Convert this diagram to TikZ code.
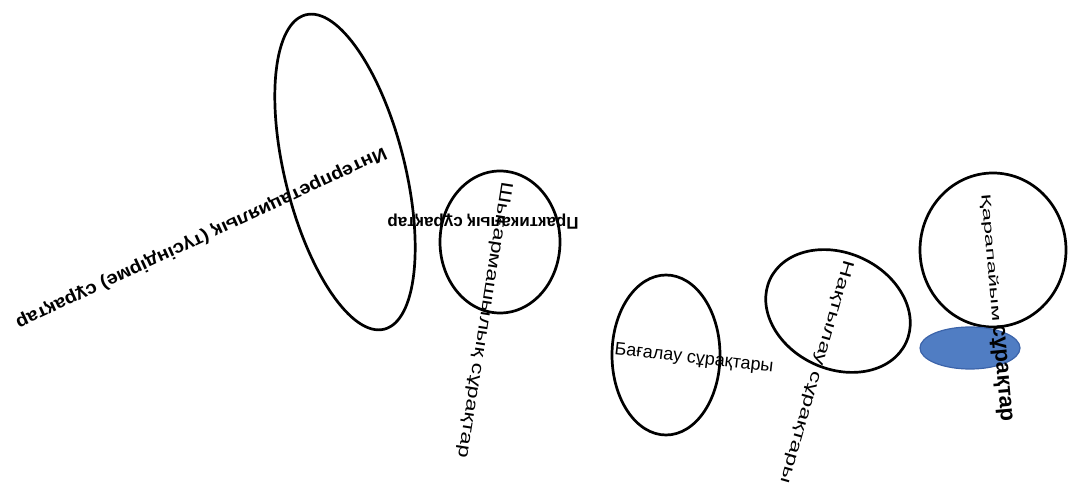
\documentclass[tikz,border=0pt]{standalone}
\usepackage{fontspec}
\setmainfont{Liberation Sans}
\usepackage{tikz}
\usetikzlibrary{positioning}

\definecolor{bubbleblue}{RGB}{80,125,195}
\definecolor{bubbleedge}{RGB}{60,100,170}

\begin{document}
\begin{tikzpicture}[
        x=1pt,
        y=1pt,
        bubble/.style={
            draw=black,
            line width=2.7pt
        },
        bluebubble/.style={
            draw=bubbleedge,
            fill=bubbleblue,
            line width=1.2pt
        },
        qlabel/.style={
            inner sep=0pt,
            text=black
        }
    ]

    \useasboundingbox (0,0) rectangle (1070,490);

    % --------------------------------------------------------
    % Outlines
    % --------------------------------------------------------

    \draw[
        bubble,
        shift={(345,318)},
        rotate=14
    ]
    (0,0) ellipse [x radius=60, y radius=162];

    \draw[
        bubble
    ]
    (500,248) ellipse [x radius=60, y radius=71];

    \draw[
        bubble
    ]
    (666,135) ellipse [x radius=54, y radius=80];

    \draw[
        bubble,
        shift={(838,179)},
        rotate=-25
    ]
    (0,0) ellipse [x radius=75, y radius=58];

    \draw[
        bubble
    ]
    (993,240) ellipse [x radius=73, y radius=77];

    \draw[
        bluebubble
    ]
    (970,142) ellipse [x radius=50, y radius=21];

    % --------------------------------------------------------
    % Question labels
    % --------------------------------------------------------

    \node[
        qlabel,
        rotate=205,
        xscale=1.1,
        font=\fontsize{18}{20}\selectfont\bfseries
    ]
    (interp)
    at (201,252)
    {Интерпретациялық (түсіндірме) сұрақтар};

    \node[
        qlabel,
        rotate=180,
        font=\fontsize{17}{19}\selectfont\bfseries
    ]
    (practical)
    at (483,268)
    {Практикалық сұрақтар};

    \node[
        qlabel,
        rotate=-99,
        xscale=1.37,
        font=\fontsize{17}{19}\selectfont
    ]
    (creative)
    at (484,170)
    {Шығармашылық сұрақтар};

    \node[
        qlabel,
        rotate=-6.5,
        font=\fontsize{18}{20}\selectfont
    ]
    (evaluate)
    at (694,131)
    {Бағалау сұрақтары};

    \node[
        qlabel,
        rotate=-106,
        xscale=1.5,
        font=\fontsize{16}{18}\selectfont
    ]
    (clarify)
    at (816,118)
    {Нақтылау сұрақтары};

    \node[
        qlabel,
        rotate=-85
    ]
    (simple)
    at (995,182)
    {\fontsize{13}{15}\selectfont\scalebox{1.85}[1]{Қарапайым}
     \fontsize{22}{24}\selectfont\bfseries сұрақтар};

\end{tikzpicture}
\end{document}
